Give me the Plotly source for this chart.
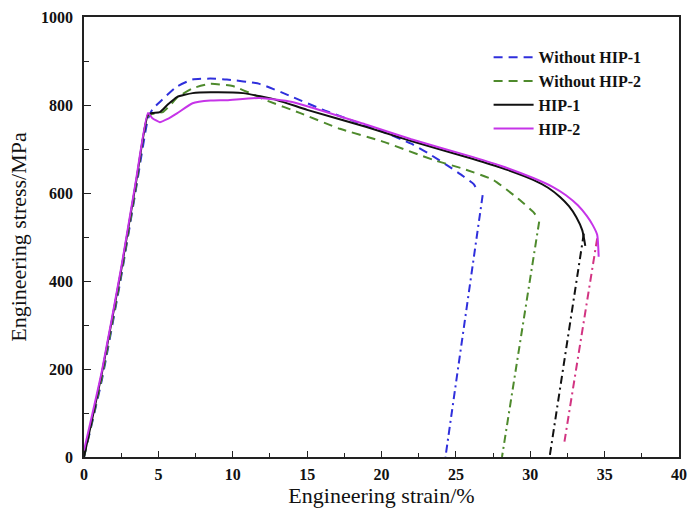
import plotly.graph_objects as go

# Tensile curves: engineering strain (%) vs engineering stress (MPa)
strain_nohip1 = [0, 1.2, 2.5, 3.5, 4.3, 4.6, 5.1, 6.2, 7.3, 8.5, 9.6, 11.8, 13.9, 16.0, 18.0, 20.1, 22.0, 23.1, 24.6, 25.5, 26.2, 26.4]
stress_nohip1 = [0, 175, 410, 610, 768, 790, 807, 841, 858, 860, 858, 848, 820, 790, 765, 739, 712, 691, 659, 638, 620, 608]

strain_nohip2 = [0, 1.2, 2.5, 3.5, 4.3, 4.8, 5.3, 5.8, 6.3, 7.3, 8.5, 10.0, 11.5, 12.3, 14.5, 17.2, 20.0, 23.5, 25.5, 27.5, 29.3, 30.2, 30.4]
stress_nohip2 = [0, 180, 415, 615, 775, 781, 784, 800, 818, 838, 848, 843, 822, 810, 782, 746, 718, 675, 655, 630, 584, 557, 548]

strain_hip1 = [0, 1.2, 2.5, 3.5, 4.3, 4.6, 5.1, 5.6, 6.25, 7.3, 8.5, 10.7, 13.0, 15.0, 19.0, 22.0, 25.7, 28.0, 30.2, 31.2, 32.0, 32.6, 33.1, 33.5, 33.7]
stress_hip1 = [0, 190, 425, 625, 778, 782, 784, 800, 818, 827, 829, 827, 811, 789, 750, 718, 682, 658, 630, 612, 591, 570, 545, 515, 480]

strain_hip2 = [0, 1.2, 2.5, 3.5, 4.3, 4.6, 5.1, 5.6, 6.25, 7.3, 8.5, 9.6, 11.8, 14.0, 19.0, 22.0, 25.7, 28.0, 30.2, 31.5, 32.4, 33.2, 33.8, 34.2, 34.5, 34.6]
stress_hip2 = [15, 195, 430, 630, 782, 770, 761, 768, 781, 804, 810, 811, 816, 807, 755, 722, 686, 662, 634, 614, 595, 572, 548, 527, 505, 455]

# Elastic unloading after fracture (start point, end point)
unload_nohip1_strain = [26.8, 24.3]
unload_nohip1_stress = [595, 0]
unload_nohip2_strain = [30.6, 28.1]
unload_nohip2_stress = [535, 0]
unload_hip1_strain = [33.6, 31.3]
unload_hip1_stress = [508, 0]
unload_hip2_strain = [34.5, 32.3]
unload_hip2_stress = [497, 35]

names = ["Without HIP-1", "Without HIP-2", "HIP-1", "HIP-2"]
colors = ["#2f2fdc", "#4e8a2c", "#111111", "#c634e8"]
unload_colors = ["#2f2fdc", "#4e8a2c", "#111111", "#d23482"]

x_ticks = [0, 5, 10, 15, 20, 25, 30, 35, 40]
y_ticks = [0, 200, 400, 600, 800, 1000]

curves = [
    (strain_nohip1, stress_nohip1, "9px,6px"),
    (strain_nohip2, stress_nohip2, "9px,6px"),
    (strain_hip1, stress_hip1, "solid"),
    (strain_hip2, stress_hip2, "solid"),
]
unloads = [
    (unload_nohip1_strain, unload_nohip1_stress),
    (unload_nohip2_strain, unload_nohip2_stress),
    (unload_hip1_strain, unload_hip1_stress),
    (unload_hip2_strain, unload_hip2_stress),
]

fig = go.Figure()

for (xs, ys), c in zip(unloads, unload_colors):
    fig.add_trace(go.Scatter(
        x=xs, y=ys, mode="lines", showlegend=False, hoverinfo="skip",
        line=dict(color=c, width=2, dash="8px,4px,2px,4px"),
    ))

for (xs, ys, dash), name, c in zip(curves, names, colors):
    fig.add_trace(go.Scatter(
        x=xs, y=ys, mode="lines", name=name,
        line=dict(color=c, width=2, dash=dash, shape="spline", smoothing=0.5),
    ))

tick_font = dict(family="Liberation Serif", size=16, color="#111111", weight="bold")
title_font = dict(family="Liberation Serif", size=22, color="#111111")

fig.update_layout(
    width=689, height=517,
    margin=dict(l=84, r=10, t=17, b=60, autoexpand=False),
    paper_bgcolor="white", plot_bgcolor="white",
    showlegend=True,
    legend=dict(
        x=0.68, y=0.947, xanchor="left", yanchor="top",
        bgcolor="rgba(0,0,0,0)",
        font=dict(family="Liberation Serif", size=16, color="#111111", weight="bold"),
        itemwidth=40, tracegroupgap=0,
    ),
)

fig.update_xaxes(
    range=[0, 40], tickvals=x_ticks, ticktext=[str(v) for v in x_ticks],
    automargin=False,
    showgrid=False, zeroline=False,
    showline=True, linecolor="#222222", linewidth=1.5, mirror=True,
    ticks="inside", ticklen=6, tickwidth=1.2, tickcolor="#222222",
    minor=dict(ticks="inside", dtick=2.5, ticklen=4, tickwidth=1.2, tickcolor="#222222"),
    tickfont=tick_font, ticklabelstandoff=2,
    title=dict(text="Engineering strain/%", font=title_font, standoff=4),
)
fig.update_yaxes(
    range=[0, 1000], tickvals=y_ticks, ticktext=[str(v) for v in y_ticks],
    automargin=False,
    showgrid=False, zeroline=False,
    showline=True, linecolor="#222222", linewidth=1.5, mirror=True,
    ticks="inside", ticklen=7, tickwidth=1.2, tickcolor="#222222",
    minor=dict(ticks="inside", dtick=100, ticklen=5, tickwidth=1.2, tickcolor="#222222"),
    tickfont=tick_font, ticklabelstandoff=6,
    title=dict(text="Engineering stress/MPa", font=title_font, standoff=8),
)

fig.write_html("out.html")
